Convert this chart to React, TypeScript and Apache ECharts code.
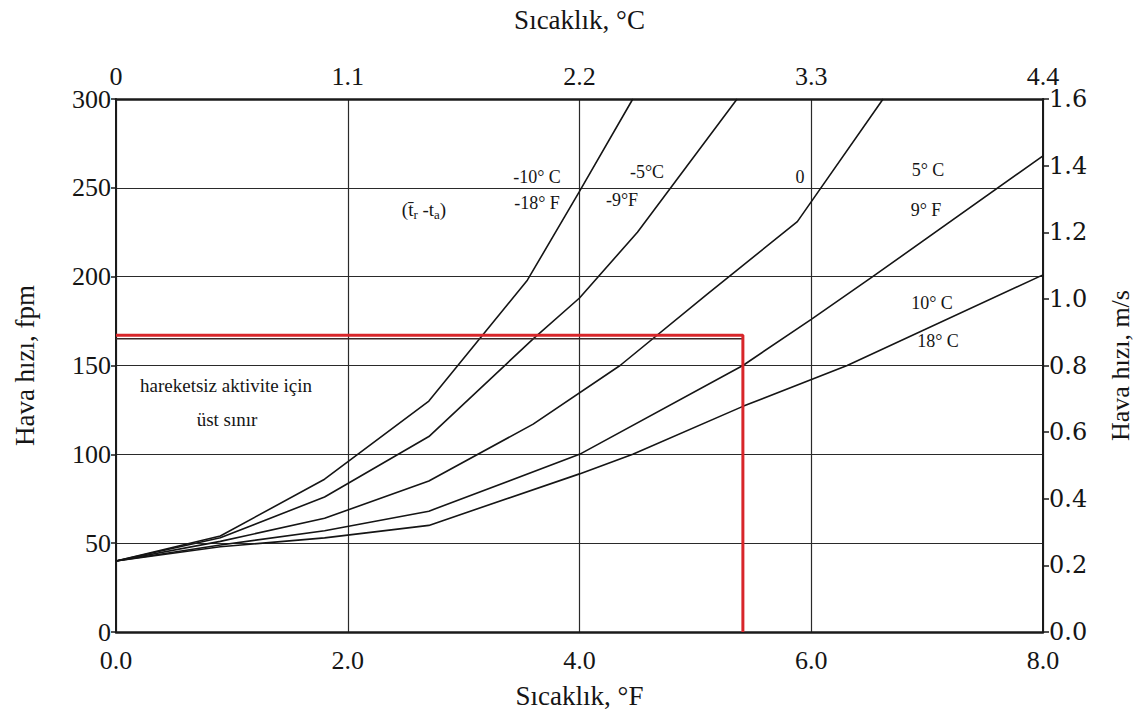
import React, { useEffect, useRef } from "react";
import * as echarts from "echarts";

// Temperature difference (°F) vs air speed (fpm)
const curveM10C: [number, number][] = [[0, 40], [0.9, 54], [1.8, 86], [2.7, 130], [3.55, 198], [4.0, 248], [4.46, 300]];
const curveM5C: [number, number][] = [[0, 40], [0.9, 53], [1.8, 76], [2.7, 110], [3.6, 165], [4.0, 188], [4.5, 225], [5.36, 300]];
const curve0C: [number, number][] = [[0, 40], [0.9, 51], [1.8, 64], [2.7, 85], [3.6, 117], [4.35, 150], [5.1, 190], [5.88, 231], [6.62, 300]];
const curve5C: [number, number][] = [[0, 40], [0.9, 49], [1.8, 57], [2.7, 68], [4.0, 100], [5.41, 150], [6.0, 176], [6.53, 200], [8.0, 268]];
const curve10C: [number, number][] = [[0, 40], [0.9, 48], [1.8, 53], [2.7, 60], [4.0, 89], [4.46, 100], [5.41, 127], [6.31, 150], [8.0, 201]];

const limitFpm = 167;
const limitF = 5.41;
const limitRed: [number, number][] = [[0, limitFpm], [limitF, limitFpm], [limitF, 0]];
const limitDark: [number, number][] = [[0, limitFpm - 2], [limitF, limitFpm - 2]];

const fMin = 0, fMax = 8, fStep = 2;
const cMin = 0, cMax = 4.4, cStep = 1.1;
const fpmMin = 0, fpmMax = 300, fpmStep = 50;
const msMin = 0, msMax = 1.6, msStep = 0.2;

const SERIF = "Liberation Serif";

export default function App() {
  const ref = useRef<HTMLDivElement>(null);
  useEffect(() => {
    document.body.style.margin = "0";
    const chart = echarts.init(ref.current!, null, { renderer: "svg" });
    const lineStyle = { color: "#151515", width: 1.6 };
    const curve = (name: string, data: [number, number][]) => ({
      name,
      type: "line",
      data,
      xAxisIndex: 0,
      yAxisIndex: 0,
      symbol: "none",
      lineStyle,
      z: 3,
    });
    const txt = (text: string, x: number, y: number, size = 18) => ({
      type: "text",
      x,
      y,
      z: 10,
      style: {
        text,
        fill: "#151515",
        fontSize: size,
        fontFamily: SERIF,
        textAlign: "center",
        textVerticalAlign: "middle",
        align: "center",
        verticalAlign: "middle",
      },
    });
    const labelStyle = { fontFamily: SERIF, fontSize: 26, color: "#151515", lineHeight: 20 };
    chart.setOption({
      animation: false,
      backgroundColor: "#ffffff",
      textStyle: { fontFamily: SERIF },
      grid: { left: 116, right: 99, top: 99, bottom: 85, containLabel: false },
      xAxis: [
        {
          type: "value",
          position: "bottom",
          min: fMin,
          max: fMax,
          interval: fStep,
          name: "Sıcaklık, °F",
          nameLocation: "middle",
          nameGap: 50,
          nameTextStyle: { fontFamily: SERIF, fontSize: 27, color: "#151515" },
          axisLine: { show: true, onZero: false, lineStyle: { color: "#1a1a1a", width: 2.5 } },
          axisTick: { show: false },
          axisLabel: { ...labelStyle, margin: 18, formatter: (v: number) => v.toFixed(1) },
          splitLine: { show: true, lineStyle: { color: "#2a2a2a", width: 1.2 } },
        },
        {
          type: "value",
          position: "top",
          min: cMin,
          max: cMax,
          interval: cStep,
          name: "Sıcaklık, °C",
          nameLocation: "middle",
          nameGap: 66,
          nameTextStyle: { fontFamily: SERIF, fontSize: 27, color: "#151515" },
          axisLine: { show: true, onZero: false, lineStyle: { color: "#1a1a1a", width: 2.5 } },
          axisTick: { show: false },
          axisLabel: { ...labelStyle, margin: 13, formatter: (v: number) => (v === 0 ? "0" : v.toFixed(1)) },
          splitLine: { show: false },
        },
      ],
      yAxis: [
        {
          type: "value",
          position: "left",
          min: fpmMin,
          max: fpmMax,
          interval: fpmStep,
          name: "Hava hızı, fpm",
          nameLocation: "middle",
          nameRotate: 90,
          nameGap: 78,
          nameTextStyle: { fontFamily: SERIF, fontSize: 27, color: "#151515" },
          axisLine: { show: true, onZero: false, lineStyle: { color: "#1a1a1a", width: 2 } },
          axisTick: { show: true, length: 5, lineStyle: { color: "#1a1a1a", width: 1.5 } },
          axisLabel: { ...labelStyle, margin: 5 },
          splitLine: { show: true, lineStyle: { color: "#2a2a2a", width: 1.2 } },
        },
        {
          type: "value",
          position: "right",
          min: msMin,
          max: msMax,
          interval: msStep,
          name: "Hava hızı, m/s",
          nameLocation: "middle",
          nameRotate: 90,
          nameGap: 64,
          nameTextStyle: { fontFamily: SERIF, fontSize: 26, color: "#151515" },
          axisLine: { show: true, onZero: false, lineStyle: { color: "#1a1a1a", width: 2 } },
          axisTick: { show: true, length: 6, lineStyle: { color: "#1a1a1a", width: 1.5 } },
          axisLabel: { fontFamily: "DejaVu Serif", fontSize: 24, color: "#151515", margin: 6, formatter: (v: number) => v.toFixed(1) },
          splitLine: { show: false },
        },
      ],
      series: [
        curve("-10°C", curveM10C),
        curve("-5°C", curveM5C),
        curve("0", curve0C),
        curve("5°C", curve5C),
        curve("10°C", curve10C),
        {
          name: "limit-dark",
          type: "line",
          data: limitDark,
          symbol: "none",
          lineStyle: { color: "#3a2a2a", width: 1.5 },
          z: 4,
        },
        {
          name: "limit",
          type: "line",
          data: limitRed,
          symbol: "none",
          lineStyle: { color: "#d8262a", width: 3 },
          z: 5,
        },
      ],
      graphic: [
        txt("-10° C", 537, 177),
        txt("-18° F", 537, 203),
        txt("-5°C", 647, 172),
        txt("-9°F", 622, 200),
        {
          type: "text",
          x: 424,
          y: 209,
          z: 10,
          style: {
            text: "{a|(t̄}{s|r}{a| -t}{s|a}{a|)}",
            fill: "#151515",
            textAlign: "center",
            textVerticalAlign: "middle",
            align: "center",
            verticalAlign: "middle",
            rich: {
              a: { fontFamily: SERIF, fontSize: 19, fill: "#151515", color: "#151515" },
              s: { fontFamily: SERIF, fontSize: 13, fill: "#151515", color: "#151515", padding: [10, 0, 0, 0] },
            },
          },
        },
        txt("0", 800, 177),
        txt("5° C", 928, 170),
        txt("9° F", 926, 210),
        txt("10° C", 932, 303),
        txt("18° C", 938, 341),
        txt("hareketsiz aktivite için", 226, 385, 19),
        txt("üst sınır", 227, 419, 19),
      ],
    });
    return () => chart.dispose();
  }, []);
  return <div ref={ref} style={{ width: 1142, height: 717 }} />;
}
